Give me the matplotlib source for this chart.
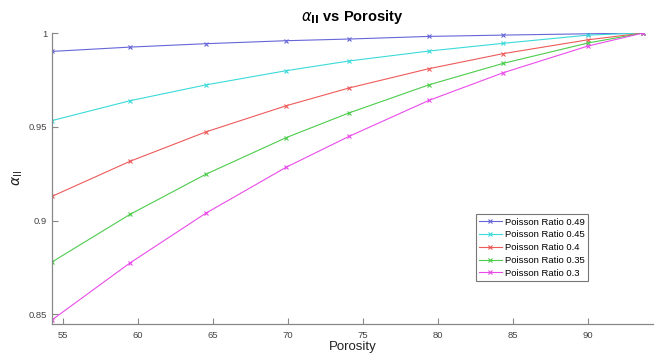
import matplotlib
matplotlib.use('Agg')
import matplotlib.pyplot as plt

plt.rcParams['font.family'] = ['Liberation Sans', 'DejaVu Sans']
plt.rcParams['mathtext.fontset'] = 'dejavusans'

# porosity values (x) shared by all curves
porosity = [54.27, 59.47, 64.5, 69.87, 74.07, 79.4, 84.33, 90.0, 93.67]

alpha_049 = [0.9902, 0.9925, 0.9943, 0.9959, 0.9968, 0.9982, 0.9989, 0.9996, 1.0]
alpha_045 = [0.9533, 0.9639, 0.9723, 0.9799, 0.9851, 0.9904, 0.9945, 0.9989, 1.0]
alpha_040 = [0.9129, 0.9316, 0.9472, 0.9612, 0.9707, 0.9810, 0.9890, 0.9964, 1.0]
alpha_035 = [0.8779, 0.9033, 0.9246, 0.9442, 0.9574, 0.9724, 0.9838, 0.9947, 1.0]
alpha_030 = [0.8470, 0.8774, 0.9038, 0.9284, 0.9449, 0.9641, 0.9788, 0.9931, 1.0]

labels = ['Poisson Ratio 0.49', 'Poisson Ratio 0.45', 'Poisson Ratio 0.4',
          'Poisson Ratio 0.35', 'Poisson Ratio 0.3']
colors = ['#6666d8', '#3cdada', '#ee5a5a', '#4ccc4c', '#ea4cea']

fig = plt.figure(figsize=(6.59, 3.61), dpi=100)
ax = fig.add_axes([0.079, 0.1025, 0.912, 0.806])

series = [alpha_049, alpha_045, alpha_040, alpha_035, alpha_030]
for y, lab, c in zip(series, labels, colors):
    ax.plot(porosity, y, color=c, lw=0.8, marker='x', ms=3, mew=0.8, label=lab)

ax.set_xlim(54.27, 94.33)
ax.set_ylim(0.8448, 1.0)
ax.set_xticks([55, 60, 65, 70, 75, 80, 85, 90])
ax.set_yticks([0.85, 0.9, 0.95, 1.0])
ax.set_yticklabels(['0.85', '0.9', '0.95', '1'])

for s in ['top', 'right']:
    ax.spines[s].set_visible(False)
for s in ['left', 'bottom']:
    ax.spines[s].set_color('#888888')
    ax.spines[s].set_linewidth(0.9)
ax.tick_params(direction='in', length=4, width=0.8, color='#888888',
               labelcolor='#444444', labelsize=6.8)
ax.tick_params(axis='x', pad=5)

ax.set_title(r'$\alpha_{\mathbf{II}}$ vs Porosity', fontsize=10.5, fontweight='bold', pad=9)
ax.set_xlabel('Porosity', fontsize=9.5, color='#222222', labelpad=1)
ax.set_ylabel(r'$\alpha_{\mathrm{II}}$', fontsize=10, color='#222222', labelpad=3)

leg = ax.legend(loc='lower left', bbox_to_anchor=(0.705, 0.148), fontsize=6.8,
                frameon=True, fancybox=False, handlelength=2.4, borderpad=0.35,
                labelspacing=0.4, handletextpad=0.3, borderaxespad=0)
leg.get_frame().set_edgecolor('#555555')
leg.get_frame().set_linewidth(0.8)

plt.savefig('out.png', dpi=100)
